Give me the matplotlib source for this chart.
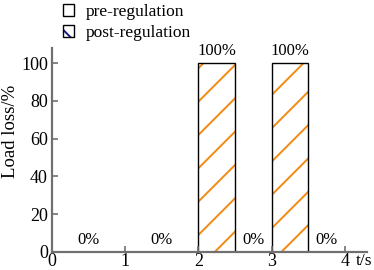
import numpy as np
import matplotlib.pyplot as plt
from matplotlib.colors import to_rgba
from matplotlib.patches import Patch

plt.rcParams['font.family'] = ['Liberation Serif', 'DejaVu Serif']
plt.rcParams['hatch.linewidth'] = 1.4

# ──────────── Datos ────────────
t_start = [0.0, 1.0, 2.0, 2.5, 3.0, 3.5]
t_width = [1.0, 1.0, 0.5, 0.5, 0.5, 0.5]
pre_loss = [0, 0, 100, 0, 100, 0]
post_loss = [0, 0, 0, 0, 0, 0]
x_ticks = [0, 1, 2, 3, 4]
y_ticks = [0, 20, 40, 60, 80, 100]

orange = '#f28a10'
gris = '#707070'

fig = plt.figure(figsize=(3.74, 2.70), dpi=100)
ax = fig.add_axes([0.139, 0.067, 0.842, 0.755])

# barras (solo las que tienen pérdida) + etiquetas de porcentaje
for x0, w, v in zip(t_start, t_width, pre_loss):
    if v > 0:
        b = ax.bar(x0, v, width=w, align='edge', facecolor='white',
                   edgecolor='black', linewidth=1.0, hatch='/')
        b[0]._hatch_color = to_rgba(orange)
    ax.text(x0 + w / 2, v + 2, f"{v}%", ha='center', va='bottom', fontsize=12)

ax.set_xlim(0, 4.3)
ax.set_ylim(0, 108)
ax.set_xticks(x_ticks)
ax.set_yticks(y_ticks)
ax.tick_params(direction='in', labelsize=13, color=gris, width=1.2, length=4)
ax.tick_params(axis='x', pad=0.5)
ax.tick_params(axis='y', pad=3)
for s in ['top', 'right']:
    ax.spines[s].set_visible(False)
for s in ['left', 'bottom']:
    ax.spines[s].set_color(gris)
    ax.spines[s].set_linewidth(1.6)

ax.set_ylabel("Load loss/%", fontsize=13.5)
ax.yaxis.set_label_coords(-0.105, 0.59)
ax.annotate("t/s", xy=(4.15, 0), xycoords=('data', 'axes fraction'),
            xytext=(0, -1), textcoords='offset points',
            ha='left', va='top', fontsize=12.5)

handles = [Patch(facecolor='white', edgecolor='black', hatch='/', label='pre-regulation'),
           Patch(facecolor='white', edgecolor='black', hatch='\\', label='post-regulation')]
leg = fig.legend(handles=handles, loc='upper left', bbox_to_anchor=(0.135, 1.03),
                 frameon=False, fontsize=12.5, handlelength=0.65, handleheight=0.65,
                 handletextpad=0.7, labelspacing=0.3, borderpad=0.2)
leg.legend_handles[0]._hatch_color = to_rgba(orange)
leg.legend_handles[1]._hatch_color = to_rgba('#1a1a80')

fig.savefig("out.png", dpi=100)
